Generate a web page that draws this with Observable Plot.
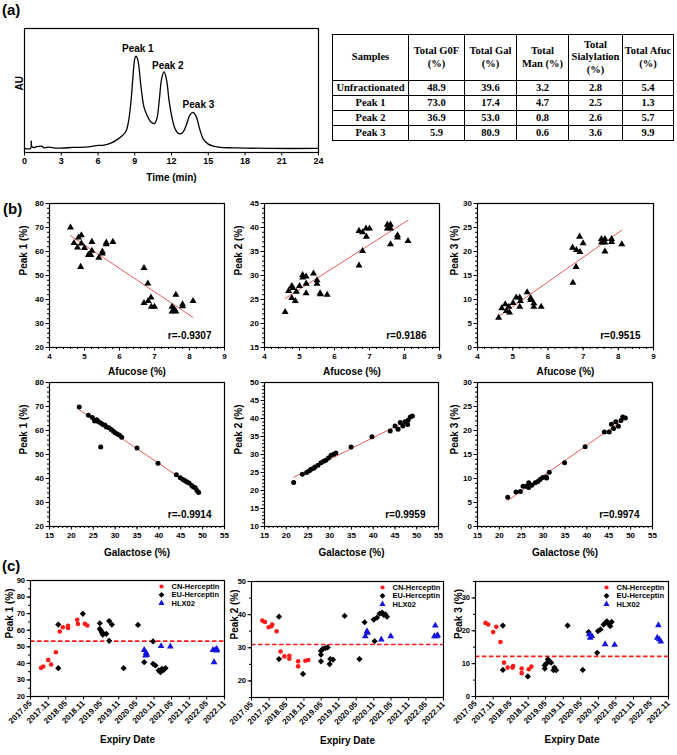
<!DOCTYPE html>
<html><head><meta charset="utf-8">
<script src="https://cdn.jsdelivr.net/npm/d3@7"></script>
<script src="https://cdn.jsdelivr.net/npm/@observablehq/plot@0.6"></script>
<style>
body{margin:0;background:#fff;}
#fig{position:relative;width:677px;height:755px;background:#fff;overflow:hidden;font-family:"Liberation Sans",Arial,Helvetica,sans-serif;}
.plab{position:absolute;font-weight:bold;font-size:15px;line-height:1;}
#fig svg{position:absolute;overflow:visible;}
#fig svg text{font-weight:bold;}
#tbl{position:absolute;left:332px;top:34px;width:341px;border-collapse:collapse;table-layout:fixed;
 font-family:"Liberation Serif","Times New Roman",serif;font-weight:bold;font-size:10.5px;text-align:center;color:#000;}
#tbl td{border:1.5px solid #000;padding:0;line-height:1.15;}
#tbl tr.h td{height:45px;}
#tbl tr.b td{height:14px;}
</style></head>
<body><div id="fig"></div>
<script>
// ---------------- DATA ----------------
const chromTime = [0,0.5,0.55,0.6,0.8,1.0,1.4,1.6,2,2.5,3,4,5,5.5,6,6.5,7,7.5,8,8.3,8.5,8.7,8.85,9.0,9.1,9.25,9.5,9.75,10,10.3,10.6,10.8,11,11.2,11.4,11.6,11.8,12,12.3,12.6,12.9,13.2,13.5,13.75,14.0,14.3,14.6,15,15.5,16,17,18,20,24];
const chromAU   = [0,0,8,2,1,2,2.5,0.7,1.5,0.4,0.4,1.1,1.5,2.2,3.3,3.6,5.5,9,14,19,30,52,77,97,100,96,68,45,36,29,27,32,52,76,83,74,52,36,21,16,17,25,36,39,35,21,10,4.7,2.2,1.1,0.7,0.4,0,0];
const peakNames = ["Peak 1","Peak 2","Peak 3"];
const peakTime  = [9.25,11.7,14.2];
const peakAU    = [108,89.5,47];
const timeTicks = [0,3,6,9,12,15,18,21,24];

const tableHeader = [["Samples"],["Total G0F","(%)"],["Total Gal","(%)"],["Total","Man (%)"],["Total","Sialylation","(%)"],["Total Afuc","(%)"]];
const tableSamples = ["Unfractionated","Peak 1","Peak 2","Peak 3"];
const tableG0F  = ["48.9","73.0","36.9","5.9"];
const tableGal  = ["39.6","17.4","53.0","80.9"];
const tableMan  = ["3.2","4.7","0.8","0.6"];
const tableSia  = ["2.8","2.5","2.6","3.6"];
const tableAfuc = ["5.4","1.3","5.7","9.9"];

const afuPeak1 = [[4.6,70.0],[4.7,63.5],[4.83,65.8],[4.8,61.7],[4.91,66.8],[4.91,63.3],[5.0,61.5],[4.89,53.6],[5.21,64.0],[5.21,60.3],[5.11,58.6],[5.18,58.6],[5.41,57.4],[5.51,60.0],[5.51,59.2],[5.62,63.7],[5.62,63.0],[5.81,64.0],[6.7,53.1],[6.81,46.7],[6.7,38.5],[6.82,39.4],[6.9,40.8],[6.91,37.0],[7.0,37.0],[7.61,42.0],[7.5,37.0],[7.56,36.0],[7.61,35.0],[7.5,35.0],[7.8,38.0],[7.8,37.2],[8.1,39.4]];
const afuPeak2 = [[4.59,22.4],[4.69,26.8],[4.78,27.8],[4.81,27.4],[4.78,25.3],[4.88,24.7],[4.91,26.6],[5.0,27.8],[5.09,30.1],[5.09,29.6],[5.19,29.8],[5.19,28.3],[5.19,26.3],[5.4,30.4],[5.5,29.0],[5.5,28.3],[5.59,26.3],[5.6,26.1],[5.79,26.0],[6.7,39.3],[6.8,39.0],[6.9,39.8],[7.0,39.8],[6.91,38.1],[6.8,35.1],[6.7,32.1],[7.51,40.6],[7.6,40.6],[7.51,39.8],[7.6,39.8],[7.6,36.5],[7.8,38.4],[7.8,37.9],[8.1,37.2]];
const afuPeak3 = [[4.6,6.2],[4.69,8.2],[4.79,9.0],[4.82,7.6],[4.89,8.5],[4.91,7.3],[5.01,9.3],[5.1,10.4],[5.2,10.4],[5.2,8.5],[5.22,9.7],[5.41,11.5],[5.51,10.3],[5.51,9.9],[5.6,9.2],[5.6,8.5],[5.81,8.5],[6.7,20.8],[6.81,20.3],[6.9,23.1],[6.91,19.9],[7.0,21.7],[6.8,16.8],[6.71,13.5],[7.52,22.6],[7.62,22.6],[7.52,21.9],[7.62,21.9],[7.62,20.0],[7.81,22.6],[7.81,22.0],[8.1,21.5]];
const galPeak1 = [[21.8,69.8],[23.9,66.4],[24.8,65.4],[25.3,64.0],[25.8,64.5],[26.2,63.6],[26.7,63.1],[27.2,62.5],[27.7,62.2],[26.7,53.1],[28.0,61.5],[28.6,61.1],[29.1,60.4],[29.6,59.7],[30.0,59.1],[30.5,58.5],[31.0,58.0],[31.5,57.2],[35.0,52.7],[39.8,46.4],[44.0,41.6],[44.9,40.3],[45.5,39.6],[46.0,39.1],[46.4,38.5],[46.9,38.1],[47.5,37.1],[47.9,36.5],[48.3,36.1],[48.7,35.0],[49.1,34.2]];
const galPeak2 = [[21.7,22.2],[23.7,24.5],[24.7,25.0],[25.3,25.5],[25.7,25.9],[26.3,26.2],[26.6,26.5],[27.3,27.0],[28.0,27.7],[28.6,28.1],[29.1,28.4],[29.7,29.0],[30.3,29.8],[30.9,30.1],[31.4,30.4],[34.9,32.1],[39.7,34.9],[43.9,36.5],[45.0,37.9],[45.7,37.0],[46.2,38.9],[46.8,37.9],[47.3,39.1],[47.9,38.3],[48.0,39.5],[48.5,40.4],[49.0,40.7]];
const galPeak3 = [[21.9,6.1],[23.8,7.2],[24.8,7.3],[25.4,8.4],[26.1,8.4],[26.7,9.1],[26.7,8.1],[27.4,8.6],[28.2,9.1],[28.8,9.4],[29.3,9.8],[29.9,10.2],[30.7,10.3],[30.8,10.1],[31.4,11.3],[34.9,13.3],[39.6,16.6],[44.0,19.7],[45.1,19.7],[45.6,21.3],[46.1,20.4],[46.6,21.8],[47.2,20.9],[47.8,22.1],[48.2,22.8],[48.8,22.6]];
const rValues = ["r=-0.9307","r=0.9186","r=0.9515","r=-0.9914","r=0.9959","r=0.9974"];

const expiryTicks = ["2017.05","2017.11","2018.05","2018.11","2019.05","2019.11","2020.05","2020.11","2021.05","2021.11","2022.05","2022.11"];
const seriesNames = ["CN-Herceptin","EU-Herceptin","HLX02"];
const cnPeak1 = [["2017-08-19",37.3],["2017-09-10",38.1],["2017-11-01",42.1],["2017-12-01",39.3],["2018-01-19",46.7],["2018-02-28",59.2],["2018-04-01",61.8],["2018-05-25",61.4],["2018-05-25",62.6],["2018-08-28",66.3],["2018-09-04",63.8],["2018-11-16",63.8],["2018-12-10",62.8]];
const euPeak1 = [["2018-02-13",63.4],["2018-02-13",37.1],["2018-10-25",69.9],["2019-04-19",64.2],["2019-04-19",60.8],["2019-05-01",59.8],["2019-05-10",58.6],["2019-05-19",57.4],["2019-05-28",57.8],["2019-06-25",57.8],["2019-07-25",65.5],["2019-07-25",53.6],["2019-08-22",63.4],["2019-12-22",37.1],["2020-05-19",63.2],["2020-07-22",40.7],["2020-10-22",53.2],["2020-10-22",39.7],["2020-11-16",38.7],["2020-12-19",35.7],["2021-01-07",34.7],["2021-01-22",36.7],["2021-02-10",36.1],["2021-02-28",37.1]];
const hlxPeak1 = [["2020-07-22",48.1],["2020-08-04",44.7],["2020-08-10",46.3],["2020-08-19",45.1],["2021-01-13",50.4],["2021-04-19",50.2],["2022-07-04",48.1],["2022-07-16",40.7],["2022-07-28",48.1],["2022-08-13",48.7],["2022-08-13",47.7]];
const cnPeak2 = [["2017-08-22",38.2],["2017-09-19",37.8],["2017-10-28",36.2],["2017-11-25",36.5],["2017-12-04",37.0],["2018-01-19",35.0],["2018-03-01",28.9],["2018-04-10",27.4],["2018-06-01",27.6],["2018-06-01",26.7],["2018-09-01",24.4],["2018-09-01",25.9],["2018-11-16",26.1],["2018-12-16",26.3]];
const euPeak2 = [["2018-02-13",39.4],["2018-02-13",26.6],["2018-10-22",22.1],["2019-04-28",25.9],["2019-04-28",27.9],["2019-04-28",29.1],["2019-05-19",29.7],["2019-06-13",29.9],["2019-07-07",30.1],["2019-07-28",25.1],["2019-08-04",26.6],["2019-09-01",26.4],["2020-01-01",39.6],["2020-06-04",26.6],["2020-07-28",37.7],["2020-11-01",38.5],["2020-11-10",32.0],["2020-12-04",39.1],["2021-01-01",40.3],["2021-01-28",40.6],["2021-02-13",39.9],["2021-03-01",40.1],["2021-03-19",39.4]];
const hlxPeak2 = [["2020-08-04",33.5],["2020-08-22",35.0],["2020-08-28",34.5],["2021-01-19",32.5],["2021-04-28",33.5],["2022-07-28",33.5],["2022-08-07",36.7],["2022-08-22",33.5],["2022-09-01",33.8]];
const cnPeak3 = [["2017-08-13",22.4],["2017-09-10",21.9],["2017-11-01",19.6],["2017-12-04",21.2],["2018-01-16",16.6],["2018-02-22",10.3],["2018-04-01",8.8],["2018-05-22",8.8],["2018-05-28",9.3],["2018-08-25",8.5],["2018-08-25",7.1],["2018-11-07",8.3],["2018-12-04",9.1]];
const euPeak3 = [["2018-02-10",21.6],["2018-02-10",8.1],["2018-10-28",6.1],["2019-04-22",8.5],["2019-04-22",9.5],["2019-05-07",10.0],["2019-05-25",11.3],["2019-06-13",10.6],["2019-06-28",10.3],["2019-07-22",8.0],["2019-08-01",8.8],["2019-08-19",8.0],["2019-12-16",21.6],["2020-05-22",8.1],["2020-07-22",19.6],["2020-10-19",13.3],["2020-10-28",19.9],["2020-11-22",20.4],["2020-12-25",21.9],["2021-01-13",22.4],["2021-01-28",22.9],["2021-02-16",22.1],["2021-03-04",21.4],["2021-03-19",22.7]];
const hlxPeak3 = [["2020-07-28",18.9],["2020-08-07",17.9],["2020-08-25",18.4],["2021-01-10",15.9],["2021-04-19",15.7],["2022-07-07",17.9],["2022-07-19",21.7],["2022-07-28",17.4],["2022-08-13",16.7]];
const meanLines = [53.4, 31.0, 12.2];

// ---------------- LAYOUT HELPERS ----------------
const fig = document.getElementById("fig");
const FONT = '"Liberation Sans", Arial, Helvetica, sans-serif';
const RED = "#ff1a1a", BLUE = "#1515e0", FIT = "#e84a4a";

function addPlot(frame, margin, opts) {
  const [x0, y0, x1, y1] = frame, [mt, mr, mb, ml] = margin;
  const svg = Plot.plot({
    width: x1 - x0 + ml + mr, height: y1 - y0 + mt + mb,
    marginTop: mt, marginRight: mr, marginBottom: mb, marginLeft: ml,
    style: {fontFamily: FONT, background: "transparent", overflow: "visible"},
    ...opts
  });
  svg.style.position = "absolute";
  svg.style.left = (x0 - ml) + "px";
  svg.style.top = (y0 - mt) + "px";
  svg.style.maxWidth = "none";
  svg.style.background = "transparent";
  fig.appendChild(svg);
}
function label(text, left, top) {
  const d = document.createElement("div");
  d.className = "plab"; d.textContent = text;
  d.style.left = left + "px"; d.style.top = top + "px";
  fig.appendChild(d);
}
function axisMarks({xMaj, xMin, yMaj, yMin, fx = 8, fy = 8, xFmt, xRot = 0}) {
  const m = [];
  if (xMin) m.push(Plot.axisX(xMin, {tickSize: 2, tickFormat: () => "", label: null}));
  if (xMaj) m.push(Plot.axisX(xMaj, {tickSize: 3.5, tickPadding: 2, fontSize: fx, fontWeight: "bold", label: null, tickFormat: xFmt, tickRotate: xRot}));
  if (yMin) m.push(Plot.axisY(yMin, {tickSize: 2, tickFormat: () => "", label: null}));
  if (yMaj) m.push(Plot.axisY(yMaj, {tickSize: 3.5, tickPadding: 2, fontSize: fy, fontWeight: "bold", label: null}));
  m.push(Plot.frame({stroke: "black", strokeWidth: 1.2}));
  return m;
}
const xLab = (t, dy, fs = 10) => Plot.text([t], {frameAnchor: "bottom", dy, text: d => d, fontSize: fs, fontWeight: "bold", lineAnchor: "middle"});
const yLab = (t, dx, fs = 10) => Plot.text([t], {frameAnchor: "left", dx, rotate: -90, text: d => d, fontSize: fs, fontWeight: "bold"});
const rLab = (t) => Plot.text([t], {frameAnchor: "bottom-right", dx: -13, dy: -12, text: d => d, fontSize: 10, fontWeight: "bold", textAnchor: "end", lineAnchor: "middle"});
const step = (a, b, s) => d3.range(a, b + s / 2, s);

// ---------------- PANEL LABELS ----------------
label("(a)", 2, 2);
label("(b)", 3, 201);
label("(c)", 2, 558);

// ---------------- (a) CHROMATOGRAM ----------------
const chrom = chromTime.map((t, i) => ({t, au: chromAU[i]}));
const peaks = peakNames.map((n, i) => ({n, t: peakTime[i], au: peakAU[i]}));
addPlot([24, 28, 318, 152], [10, 10, 35, 20], {
  x: {domain: [0, 24]},
  y: {domain: [-4.4, 130], axis: null},
  marks: [
    Plot.line(chrom, {x: "t", y: "au", curve: "catmull-rom", stroke: "black", strokeWidth: 1.3}),
    Plot.text(peaks, {x: "t", y: "au", text: "n", fontSize: 10, fontWeight: "bold"}),
    ...axisMarks({xMaj: timeTicks, fx: 9}),
    xLab("Time (min)", 25),
    yLab("AU", -5)
  ]
});

// ---------------- TABLE ----------------
(function () {
  const tbl = document.createElement("table");
  tbl.id = "tbl";
  const cg = document.createElement("colgroup");
  [76, 56, 52, 52, 54, 51].forEach(w => { const c = document.createElement("col"); c.style.width = w + "px"; cg.appendChild(c); });
  tbl.appendChild(cg);
  const hr = document.createElement("tr"); hr.className = "h";
  tableHeader.forEach(lines => { const td = document.createElement("td"); td.innerHTML = lines.join("<br>"); hr.appendChild(td); });
  tbl.appendChild(hr);
  tableSamples.forEach((s, i) => {
    const tr = document.createElement("tr"); tr.className = "b";
    [s, tableG0F[i], tableGal[i], tableMan[i], tableSia[i], tableAfuc[i]].forEach(v => { const td = document.createElement("td"); td.textContent = v; tr.appendChild(td); });
    tbl.appendChild(tr);
  });
  fig.appendChild(tbl);
})();

// ---------------- (b) CORRELATIONS ----------------
function scatter(frame, data, xDom, yDom, xMaj, xMin, yMaj, yMin, sym, xl, yl, ydx, r) {
  addPlot(frame, [10, 10, 40, 35], {
    x: {domain: xDom}, y: {domain: yDom},
    marks: [
      Plot.linearRegressionY(data, {x: d => d[0], y: d => d[1], stroke: FIT, strokeWidth: 0.9, ci: 0}),
      Plot.dot(data, {x: d => d[0], y: d => d[1], symbol: sym, r: sym === "triangle" ? 2.6 : 2.5, fill: "black", stroke: "none"}),
      ...axisMarks({xMaj, xMin, yMaj, yMin}),
      xLab(xl, frame[1] < 300 ? 24 : 26),
      yLab(yl, ydx),
      rLab(r)
    ]
  });
}
scatter([49, 203, 224, 347], afuPeak1, [4, 9], [20, 80], step(4, 9, 1), step(4, 9, 0.2), step(20, 80, 10), step(20, 80, 2), "triangle", "Afucose (%)", "Peak 1 (%)", -26, rValues[0]);
scatter([264, 203, 439, 347], afuPeak2, [4, 9], [15, 45], step(4, 9, 1), step(4, 9, 0.2), step(15, 45, 5), step(15, 45, 1), "triangle", "Afucose (%)", "Peak 2 (%)", -26, rValues[1]);
scatter([477, 203, 653, 347], afuPeak3, [4, 9], [0, 30], step(4, 9, 1), step(4, 9, 0.2), step(0, 30, 5), step(0, 30, 1), "triangle", "Afucose (%)", "Peak 3 (%)", -23, rValues[2]);
scatter([49, 382, 224, 526], galPeak1, [15, 55], [20, 80], step(15, 55, 5), step(15, 55, 1), step(20, 80, 10), step(20, 80, 2), "circle", "Galactose (%)", "Peak 1 (%)", -26, rValues[3]);
scatter([264, 382, 438, 526], galPeak2, [15, 55], [10, 50], step(15, 55, 5), step(15, 55, 1), step(10, 50, 5), step(10, 50, 1), "circle", "Galactose (%)", "Peak 2 (%)", -26, rValues[4]);
scatter([477, 382, 652, 526], galPeak3, [15, 55], [0, 30], step(15, 55, 5), step(15, 55, 1), step(0, 30, 5), step(0, 30, 1), "circle", "Galactose (%)", "Peak 3 (%)", -23, rValues[5]);

// ---------------- (c) EXPIRY DATE ----------------
const parseTick = d3.utcParse("%Y.%m");
const tickDates = expiryTicks.map(parseTick);
const fmtTick = d3.utcFormat("%Y.%m");
const toObj = arr => arr.map(([d, v]) => ({date: new Date(d + "T00:00:00Z"), v}));
const symSpec = [{sym: "circle", fill: RED, r: 2.3}, {sym: "diamond2", fill: "black", r: 2.8}, {sym: "triangle", fill: BLUE, r: 2.5}];

function legendMarks() {
  const m = [];
  seriesNames.forEach((n, i) => {
    const s = symSpec[i];
    m.push(Plot.dot([n], {frameAnchor: "top-left", dx: 131, dy: 6 + i * 8.3, symbol: s.sym, fill: s.fill, r: s.r - 0.2, stroke: "none"}));
    m.push(Plot.text([n], {frameAnchor: "top-left", dx: 141, dy: 6 + i * 8.3, text: d => d, fontSize: 7.5, fontWeight: "bold", textAnchor: "start", lineAnchor: "middle"}));
  });
  return m;
}
function timePanel(frame, sets, yDom, yMaj, yMin, yl, ydx, mean) {
  addPlot(frame, [10, 10, 60, 30], {
    x: {type: "utc", domain: [tickDates[0], tickDates[tickDates.length - 1]]},
    y: {domain: yDom},
    marks: [
      Plot.ruleY([mean], {stroke: RED, strokeWidth: 1.6, strokeDasharray: "4.5,2.5"}),
      ...sets.map((s, i) => Plot.dot(toObj(s), {x: "date", y: "v", symbol: symSpec[i].sym, fill: symSpec[i].fill, r: symSpec[i].r, stroke: "none"})),
      ...axisMarks({xMaj: tickDates, xFmt: fmtTick, xRot: -45, fx: 8, yMaj, yMin, fy: 7.5}),
      ...legendMarks(),
      xLab("Expiry Date", 43),
      yLab(yl, ydx)
    ]
  });
}
timePanel([30, 580, 224, 696], [cnPeak1, euPeak1, hlxPeak1], [20, 90], step(20, 90, 10), step(20, 90, 5), "Peak 1 (%)", -21, meanLines[0]);
timePanel([251, 581, 443, 697], [cnPeak2, euPeak2, hlxPeak2], [15, 50], step(20, 50, 10), step(15, 50, 5), "Peak 2 (%)", -17, meanLines[1]);
timePanel([475, 581, 668, 696], [cnPeak3, euPeak3, hlxPeak3], [0, 35], step(0, 30, 10), step(0, 35, 5), "Peak 3 (%)", -17, meanLines[2]);
</script></body></html>
